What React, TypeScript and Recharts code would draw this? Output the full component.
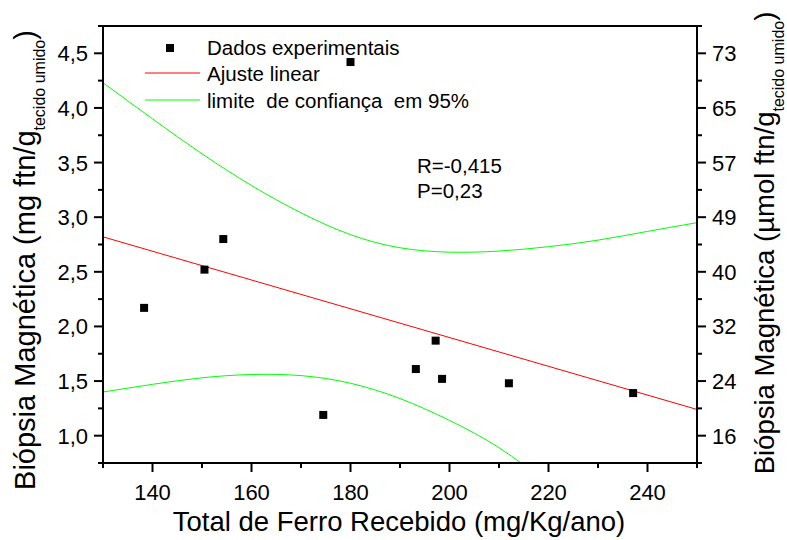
import { ComposedChart, Line, Scatter, XAxis, YAxis, Customized } from 'recharts';

// dados experimentais
const ferro = [138.3, 150.5, 154.3, 174.5, 180.0, 193.2, 197.2, 198.5, 212.0, 237.1];
const biopsia = [2.17, 2.52, 2.8, 1.19, 4.42, 1.61, 1.87, 1.52, 1.48, 1.39];

// ajuste linear (extremos)
const fitX = [130, 250];
const fitY = [2.82, 1.24];

// limites de confiança 95%
const bandX = [130, 140, 150, 160, 170, 180, 190, 200, 210, 220, 230, 240, 250];
const upperY = [4.23, 3.9, 3.58, 3.29, 3.04, 2.84, 2.72, 2.68, 2.69, 2.73, 2.79, 2.87, 2.95];
const lowerY = [1.4, 1.47, 1.53, 1.56, 1.55, 1.48, 1.34, 1.14, 0.89, 0.56];

const xTicks = [130, 140, 150, 160, 170, 180, 190, 200, 210, 220, 230, 240, 250];
const yTicks = [0.75, 1, 1.25, 1.5, 1.75, 2, 2.25, 2.5, 2.75, 3, 3.25, 3.5, 3.75, 4, 4.25, 4.5, 4.75];
const rightTickLabels = ['16', '24', '32', '40', '49', '57', '65', '73'];

const FONT = '"Liberation Sans", Arial, sans-serif';

const points = ferro.map((x, i) => ({ x, y: biopsia[i] }));
const fitData = fitX.map((x, i) => ({ x, y: fitY[i] }));
const upperData = bandX.map((x, i) => ({ x, y: upperY[i] }));
const lowerData = lowerY.map((y, i) => ({ x: bandX[i], y }));

const fmtComma = (v: number) => v.toFixed(1).replace('.', ',');
const isHalf = (v: number) => Math.abs(v * 2 - Math.round(v * 2)) < 1e-6;

function BottomTick(props: any) {
  const { x, y, payload } = props;
  const major = payload.value % 20 === 0;
  return (
    <g>
      <line x1={x} x2={x} y1={y} y2={y + (major ? 9 : 5)} stroke="#000" strokeWidth={2} />
      {major && (
        <text x={x} y={y + 37} textAnchor="middle" fontSize={22} fontFamily={FONT} fill="#000">
          {payload.value}
        </text>
      )}
    </g>
  );
}

function LeftTick(props: any) {
  const { x, y, payload } = props;
  const major = isHalf(payload.value) && payload.value >= 1 && payload.value <= 4.5;
  return (
    <g>
      <line x1={x} x2={x - (major ? 9 : 5)} y1={y} y2={y} stroke="#000" strokeWidth={2} />
      {major && (
        <text x={x - 15} y={y + 8} textAnchor="end" fontSize={22} fontFamily={FONT} fill="#000">
          {fmtComma(payload.value)}
        </text>
      )}
    </g>
  );
}

function RightTick(props: any) {
  const { x, y, payload } = props;
  const major = isHalf(payload.value) && payload.value >= 1 && payload.value <= 4.5;
  const idx = Math.round((payload.value - 1) * 2);
  return (
    <g>
      <line x1={x} x2={x + (major ? 9 : 5)} y1={y} y2={y} stroke="#000" strokeWidth={2} />
      {major && (
        <text x={x + 15} y={y + 8} textAnchor="start" fontSize={22} fontFamily={FONT} fill="#000">
          {rightTickLabels[idx]}
        </text>
      )}
    </g>
  );
}

const SquareDot = (props: any) => {
  const { cx, cy } = props;
  return <rect x={cx - 4} y={cy - 4} width={8} height={8} fill="#000" />;
};

function Decorations() {
  return (
    <g fontFamily={FONT} fill="#000">
      {/* moldura superior */}
      <line x1={102} x2={698} y1={26} y2={26} stroke="#000" strokeWidth={2} />

      {/* legenda */}
      <rect x={166} y={44} width={8} height={8} fill="#000" />
      <text x={207} y={55} fontSize={20.5}>Dados experimentais</text>
      <line x1={145} x2={200} y1={73} y2={73} stroke="#ff0000" strokeWidth={1} />
      <text x={207} y={81} fontSize={20.5}>Ajuste linear</text>
      <line x1={145} x2={200} y1={100} y2={100} stroke="#00ff00" strokeWidth={1} />
      <text x={207} y={108} fontSize={20.5} style={{ whiteSpace: 'pre' }}>
        {'limite  de confiança  em 95%'}
      </text>

      <text x={417} y={173} fontSize={20.5}>R=-0,415</text>
      <text x={417} y={198} fontSize={20.5}>P=0,23</text>

      {/* títulos dos eixos */}
      <text x={399} y={531} fontSize={27.5} textAnchor="middle">
        Total de Ferro Recebido (mg/Kg/ano)
      </text>
      <text transform="translate(35,260) rotate(-90)" fontSize={29} textAnchor="middle">
        Biópsia Magnética (mg ftn/g
        <tspan fontSize={16} dy={10}>tecido umido</tspan>
        <tspan dy={-10}>)</tspan>
      </text>
      <text transform="translate(774,243) rotate(-90)" fontSize={27.5} textAnchor="middle">
        Biópsia Magnética (µmol ftn/g
        <tspan fontSize={16} dy={10}>tecido umido</tspan>
        <tspan dy={-10}>)</tspan>
      </text>
    </g>
  );
}

export default function App() {
  return (
    <div style={{ width: 787, height: 540, background: '#fff' }}>
      <style>{'body{margin:0}'}</style>
      <ComposedChart width={787} height={540} margin={{ top: 26, right: 0, bottom: 0, left: 0 }}>
        <XAxis
          type="number"
          dataKey="x"
          domain={[130, 250]}
          ticks={xTicks}
          allowDataOverflow
          height={77}
          tickSize={0}
          tickMargin={0}
          tickLine={false}
          axisLine={{ stroke: '#000', strokeWidth: 2 }}
          tick={<BottomTick />}
          interval={0}
        />
        <YAxis
          yAxisId="left"
          type="number"
          dataKey="y"
          domain={[0.75, 4.75]}
          ticks={yTicks}
          allowDataOverflow
          width={103}
          tickSize={0}
          tickMargin={0}
          tickLine={false}
          axisLine={{ stroke: '#000', strokeWidth: 2 }}
          tick={<LeftTick />}
          interval={0}
        />
        <YAxis
          yAxisId="right"
          orientation="right"
          type="number"
          domain={[0.75, 4.75]}
          ticks={yTicks}
          allowDataOverflow
          width={90}
          tickSize={0}
          tickMargin={0}
          tickLine={false}
          axisLine={{ stroke: '#000', strokeWidth: 2 }}
          tick={<RightTick />}
          interval={0}
        />
        <Line
          yAxisId="left"
          data={upperData}
          dataKey="y"
          type="natural"
          stroke="#00ff00"
          strokeWidth={1}
          dot={false}
          isAnimationActive={false}
        />
        <Line
          yAxisId="left"
          data={lowerData}
          dataKey="y"
          type="natural"
          stroke="#00ff00"
          strokeWidth={1}
          dot={false}
          isAnimationActive={false}
        />
        <Line
          yAxisId="left"
          data={fitData}
          dataKey="y"
          type="linear"
          stroke="#ff0000"
          strokeWidth={1}
          dot={false}
          isAnimationActive={false}
        />
        <Scatter
          yAxisId="left"
          data={points}
          dataKey="y"
          fill="#000"
          shape={<SquareDot />}
          isAnimationActive={false}
        />
        <Customized component={Decorations} />
      </ComposedChart>
    </div>
  );
}
